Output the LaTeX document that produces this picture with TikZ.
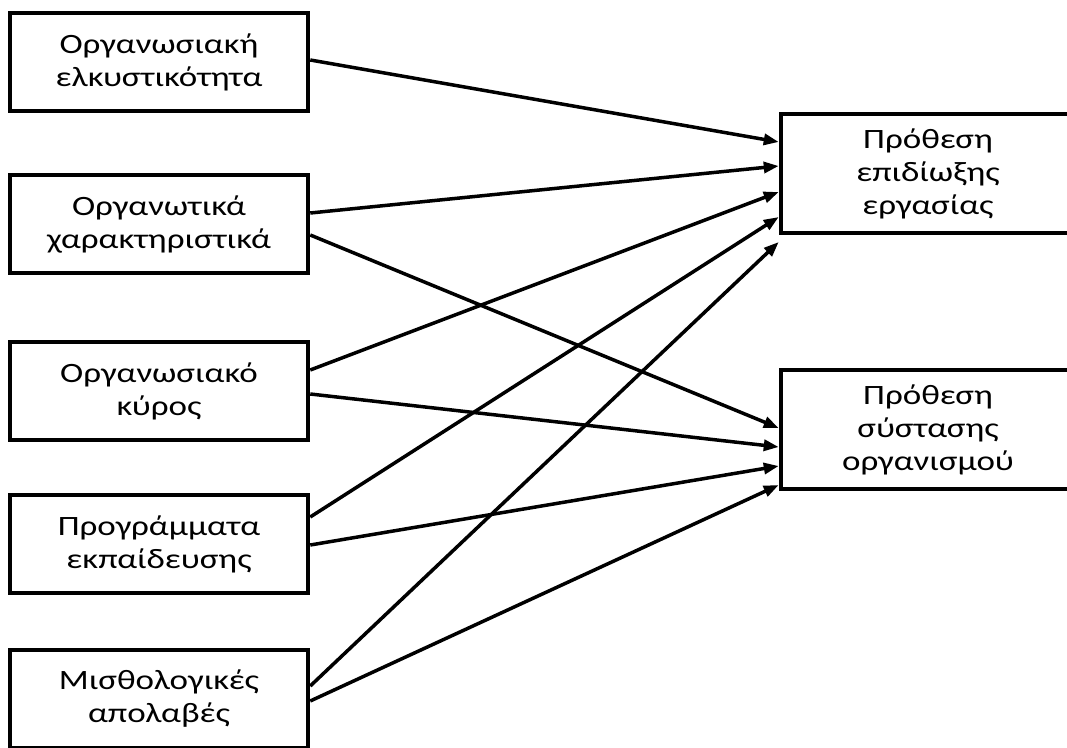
\documentclass[tikz,border=0pt]{standalone}
\usepackage{fontspec}
\newfontfamily\boxfont[FakeStretch=1.25]{Carlito}
\usetikzlibrary{arrows.meta}

\tikzset{
  box/.style={draw, line width=4.5pt, minimum width=298pt, minimum height=98pt,
    inner sep=0pt, align=center, font=\boxfont\fontsize{28}{33}\selectfont},
  goal/.style={box, minimum width=294pt, minimum height=119pt},
  link/.style={line width=3.5pt, -{Triangle[length=15pt,width=11pt]}},
}

\begin{document}
\begin{tikzpicture}[x=1pt, y=1pt]
  \useasboundingbox (0,0) rectangle (1067,747);
  \clip (0,0) rectangle (1067,747);

  % predictors
  \node[box] (org)   at (159,685) {Οργανωσιακή\\ελκυστικότητα};
  \node[box] (char)  at (159,523) {Οργανωτικά\\χαρακτηριστικά};
  \node[box] (pres)  at (159,356) {Οργανωσιακό\\κύρος};
  \node[box] (train) at (159,203) {Προγράμματα\\εκπαίδευσης};
  \node[box] (pay)   at (159,48)  {Μισθολογικές\\απολαβές};

  % outcomes
  \node[goal] (job) at (928,573.5) {Πρόθεση\\επιδίωξης\\εργασίας};
  \node[goal] (rec) at (928,317.5) {Πρόθεση\\σύστασης\\οργανισμού};

  % paths to job-pursuit intention
  \draw[link] ([yshift=2pt]org.east)    -- ([yshift=31.5pt]job.west);
  \draw[link] ([yshift=11pt]char.east)  -- ([yshift=7.5pt]job.west);
  \draw[link] ([yshift=21pt]pres.east)  -- ([yshift=-18.5pt]job.west);
  \draw[link] ([yshift=27pt]train.east) -- ([yshift=-43.5pt]job.west);
  \draw[link] ([yshift=13pt]pay.east)   -- ([yshift=-68.5pt]job.west);

  % paths to recommendation intention
  \draw[link] ([yshift=-11pt]char.east) -- ([yshift=1.5pt]rec.west);
  \draw[link] ([yshift=-3pt]pres.east)  -- ([yshift=-17.5pt]rec.west);
  \draw[link] ([yshift=-1pt]train.east) -- ([yshift=-36.5pt]rec.west);
  \draw[link] ([yshift=-2pt]pay.east)   -- ([yshift=-55.5pt]rec.west);
\end{tikzpicture}
\end{document}
